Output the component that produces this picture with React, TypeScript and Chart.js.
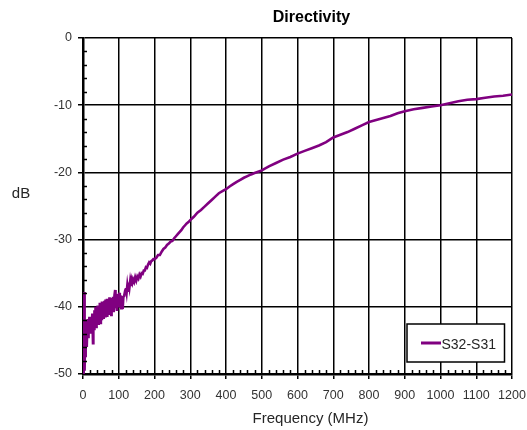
import React, { useEffect, useRef } from "react";
import { Chart, registerables } from "chart.js";

Chart.register(...registerables);

const TITLE = "Directivity";
const X_TITLE = "Frequency (MHz)";
const Y_TITLE = "dB";
const SERIES_LABEL = "S32-S31";

const X_MIN = 0;
const X_MAX = 1200;
const X_STEP = 100;
const X_MINOR = 20;
const Y_MIN = -50;
const Y_MAX = 0;
const Y_STEP = 10;
const Y_MINOR = 2;

const FREQ_MHZ = [
  0, 1, 2, 3, 4, 5, 6, 7, 8, 9, 10,
  11, 12, 13, 14, 15, 16, 18, 19, 20, 22, 23, 25, 26, 28, 29,
  31, 32, 34, 35, 37, 38, 40, 41, 43, 44, 46, 47, 49, 50,
  52, 53, 55, 57, 58, 60, 62, 63, 65, 67, 68, 70, 72, 74, 75,
  77, 79, 80, 82, 84, 86, 88, 90, 91, 93, 95, 97, 99, 101, 103,
  105, 107, 109, 111, 113, 115, 118, 120, 122, 124, 126, 128, 130,
  132, 134, 136, 138, 140, 143, 146, 149, 152, 155, 158, 161, 164,
  167, 170, 173, 176, 179, 182, 185, 188, 191, 194, 197, 200,
  205, 210, 215, 220, 225, 230, 235, 240, 245, 250, 255, 260, 265,
  270, 275, 280, 285, 290, 295, 300, 310, 320, 330, 340, 350, 360,
  370, 380, 390, 400, 410, 420, 430, 440, 450, 460, 470, 480, 490,
  500, 520, 540, 560, 580, 600, 620, 640, 660, 680, 700, 720, 740,
  760, 780, 800, 820, 840, 860, 880, 900, 925, 950, 975, 1000, 1025,
  1050, 1075, 1100, 1125, 1150, 1175, 1200,
];

const S32_S31_DB = [
  -42.5, -50, -44, -37.8, -46, -49.5, -44, -47.5, -42.5, -45.5, -42,
  -46, -43, -41.8, -44.5, -42, -43.5, -41.5, -43.5, -42, -44, -41.5, -42.5, -41, -45.4, -41.5,
  -43.3, -40.5, -42.6, -40, -43, -40.3, -42.3, -39.8, -42.5, -39.8, -42.2, -39.4, -42.4, -39.5,
  -41.8, -39.2, -41.7, -39.3, -41.8, -39.1, -41.4, -38.9, -41.3, -38.8, -41.5, -39.1, -41, -38.6, -41.2,
  -38.9, -41.2, -38.7, -40.7, -38.5, -40.8, -38.3, -37.5, -40.2, -38.4, -40.6, -38.1, -39.9, -37.9, -40.1,
  -38.3, -40.2, -38.4, -40.3, -38.5, -38.4, -37.6, -37.2, -37.9, -36.8, -37.6, -36.4, -37.1,
  -36.2, -36.9, -36, -36.4, -35.9, -36.3, -35.6, -36.1, -35.5, -35.8, -35.2, -35.5, -35,
  -35.1, -34.6, -34.6, -34.1, -34.2, -33.7, -33.4, -33.6, -33.2, -33.1, -32.9, -32.9,
  -32.7, -32.3, -32.3, -31.8, -31.4, -31.2, -30.8, -30.6, -30.3, -30.2, -29.8, -29.5, -29.2,
  -28.9, -28.6, -28.2, -27.9, -27.6, -27.4, -27.1, -26.6, -26.0, -25.6, -25.1, -24.6, -24.1,
  -23.6, -23.1, -22.8, -22.5, -22.1, -21.75, -21.4, -21.1, -20.8, -20.55, -20.3, -20.1, -19.9,
  -19.7, -19.1, -18.6, -18.1, -17.7, -17.2, -16.8, -16.4, -16.0, -15.5, -14.8, -14.4, -14.0,
  -13.5, -13.0, -12.5, -12.2, -11.9, -11.6, -11.2, -10.9, -10.6, -10.4, -10.2, -10.0, -9.7,
  -9.4, -9.2, -9.1, -8.9, -8.7, -8.6, -8.4,
];

const FONT = '"Liberation Sans", Arial, sans-serif';
const LINE_COLOR = "#800080";

const overlay = {
  id: "overlay",
  afterDraw(chart: any) {
    const ctx = chart.ctx;
    const a = chart.chartArea;
    const xs = chart.scales.x;
    const ys = chart.scales.y;
    ctx.save();

    // minor ticks (inside)
    ctx.strokeStyle = "#000";
    ctx.lineWidth = 1.5;
    ctx.beginPath();
    for (let v = X_MIN; v <= X_MAX; v += X_MINOR) {
      if (v % X_STEP === 0) continue;
      const px = Math.round(xs.getPixelForValue(v)) + 0.5;
      ctx.moveTo(px, a.bottom);
      ctx.lineTo(px, a.bottom - 4);
    }
    for (let v = Y_MIN; v <= Y_MAX; v += Y_MINOR) {
      if (v % Y_STEP === 0) continue;
      const py = Math.round(ys.getPixelForValue(v)) + 0.5;
      ctx.moveTo(a.left, py);
      ctx.lineTo(a.left + 4, py);
    }
    ctx.stroke();

    // legend box
    const ds = chart.data.datasets[0];
    const bx = a.right - 105;
    const by = a.bottom - 50;
    const bw = 97.5;
    const bh = 38;
    ctx.fillStyle = "#fff";
    ctx.fillRect(bx, by, bw, bh);
    ctx.strokeStyle = "#000";
    ctx.lineWidth = 1.5;
    ctx.strokeRect(bx, by, bw, bh);
    ctx.strokeStyle = ds.borderColor;
    ctx.lineWidth = 3;
    ctx.beginPath();
    ctx.moveTo(bx + 14, by + 19);
    ctx.lineTo(bx + 34, by + 19);
    ctx.stroke();
    ctx.fillStyle = "#262626";
    ctx.font = `14px ${FONT}`;
    ctx.textAlign = "left";
    ctx.textBaseline = "alphabetic";
    ctx.fillText(ds.label, bx + 34.5, by + 25.3);

    // titles
    const cx = (a.left + a.right) / 2 + 14;
    ctx.fillStyle = "#000";
    ctx.font = `bold 16px ${FONT}`;
    ctx.textAlign = "center";
    ctx.fillText(TITLE, cx, 22);
    ctx.fillStyle = "#262626";
    ctx.font = `15px ${FONT}`;
    ctx.fillText(X_TITLE, cx - 1, 423.3);
    ctx.fillText(Y_TITLE, 21, 198.3);
    ctx.restore();
  },
};

export default function App() {
  const canvasRef = useRef<HTMLCanvasElement | null>(null);

  useEffect(() => {
    const canvas = canvasRef.current;
    if (!canvas) return;
    const chart = new Chart(canvas, {
      type: "line",
      data: {
        datasets: [
          {
            label: SERIES_LABEL,
            data: FREQ_MHZ.map((f, i) => ({ x: f, y: S32_S31_DB[i] })),
            borderColor: LINE_COLOR,
            backgroundColor: LINE_COLOR,
            borderWidth: 2.6,
            pointRadius: 0,
            tension: 0,
            fill: false,
          },
        ],
      },
      options: {
        responsive: false,
        animation: false,
        layout: { padding: { left: 0, top: 38, right: 15, bottom: 0 } },
        plugins: {
          legend: { display: false },
          title: { display: false },
          tooltip: { enabled: false },
        },
        scales: {
          x: {
            type: "linear",
            min: X_MIN,
            max: X_MAX,
            afterFit: (s: any) => {
              s.height = 56;
              s.paddingLeft = 0;
              s.paddingRight = 0;
            },
            ticks: {
              stepSize: X_STEP,
              color: "#333",
              font: { family: FONT, size: 12.5 },
              padding: 9,
              maxRotation: 0,
              callback: (v: any) => String(v),
            },
            grid: {
              color: "#000",
              lineWidth: 1.5,
              drawTicks: true,
              tickLength: 5,
              tickColor: "#000",
              tickWidth: 1.5,
            },
            border: { display: true, color: "#000", width: 2.5 },
          },
          y: {
            type: "linear",
            min: Y_MIN,
            max: Y_MAX,
            afterFit: (s: any) => {
              s.width = 83;
              s.paddingTop = 0;
              s.paddingBottom = 0;
            },
            ticks: {
              stepSize: Y_STEP,
              color: "#333",
              font: { family: FONT, size: 12.5 },
              padding: 6,
              callback: (v: any) => String(v),
            },
            grid: {
              color: "#000",
              lineWidth: 1.5,
              drawTicks: true,
              tickLength: 5,
              tickColor: "#000",
              tickWidth: 1.5,
            },
            border: { display: true, color: "#000", width: 2.5 },
          },
        },
      },
      plugins: [overlay],
    });
    return () => chart.destroy();
  }, []);

  return (
    <div style={{ position: "fixed", left: 0, top: 0, width: 527, height: 430, background: "#fff" }}>
      <canvas ref={canvasRef} width={527} height={430} style={{ display: "block", width: 527, height: 430 }} />
    </div>
  );
}
